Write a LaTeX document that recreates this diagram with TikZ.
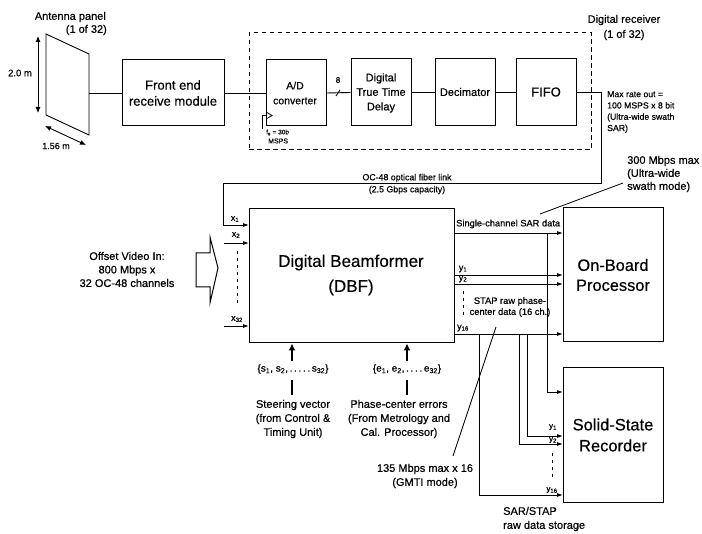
\documentclass[tikz,border=0pt]{standalone}
\usepackage{fontspec}
\setmainfont[FakeBold=0.5]{Liberation Sans}
\usetikzlibrary{arrows.meta}
\newcommand{\fs}[2]{\fontsize{#1}{#2}\selectfont}
\newcommand{\sbs}[1]{\textsubscript{#1}}
\tikzset{
  box/.style={draw,line width=1pt,inner sep=0pt,align=center},
  conn/.style={line width=0.9pt},
  arr/.style={conn,-{Latex[length=6pt,width=4pt]}},
  dbl/.style={line width=0.9pt,{Latex[length=6pt,width=5pt]}-{Latex[length=6pt,width=5pt]}},
  thick up/.style={line width=1.8pt,-{Latex[length=7pt,width=7pt]}},
  thin dash/.style={line width=0.9pt,dash pattern=on 3pt off 4pt},
  lab/.style={inner sep=0pt,align=center},
  labl/.style={inner sep=0pt,align=left,anchor=west},
}
\newcommand{\bx}[6]{\node[box,minimum width=#4-#2,minimum height=#5-#3] (#1) at ({(#2+#4)/2},{(#3+#5)/2}) {#6};}
\begin{document}
\begin{tikzpicture}[x=1pt,y=-1pt]
\useasboundingbox (0,0) rectangle (702,534);
% boxes
\bx{fe}{122}{60}{224}{126}{}
\bx{ad}{266}{60}{326}{126}{}
\bx{ttd}{351}{59}{411}{126}{}
\bx{dec}{435}{59}{495}{126}{}
\bx{fifo}{516}{59}{576}{126}{}
\bx{dbf}{249}{209}{454}{343}{}
\bx{obp}{563}{208}{663}{342}{}
\bx{ssr}{563}{368}{663}{503}{}
\node[lab,font=\fs{13}{16}] (tfe) at (173,93) {Front end\\receive module};
\node[lab,font=\fs{10.5}{15}] (tad) at (295,93) {A/D\\converter};
\node[lab,font=\fs{11}{14.5}] (tttd) at (381,93) {Digital\\True Time\\Delay};
\node[lab,font=\fs{11}{13}] (tdec) at (465,92) {Decimator};
\node[lab,font=\fs{13}{15}] (tfifo) at (546,92) {FIFO};
\node[lab,font=\fs{17}{25}] (tdbf) at (351,275) {Digital Beamformer\\(DBF)};
\node[lab,font=\fs{16.4}{20}] (tobp) at (613,275) {On-Board\\Processor};
\node[lab,font=\fs{16.5}{21}] (tssr) at (613,435) {Solid-State\\Recorder};
% dashed receiver
\node[draw,line width=1pt,dash pattern=on 4.5pt off 3.5pt,minimum width=342pt,minimum height=117pt,inner sep=0pt] (rx) at (420,91.5) {};
% antenna
\coordinate (a1) at (46,34); \coordinate (a2) at (89,54); \coordinate (a3) at (89,135); \coordinate (a4) at (46,115);
\coordinate (aout) at (89,93);
\draw[conn] (a1)--(a2)--(a3)--(a4)--cycle;
\coordinate (hT) at (38,36); \coordinate (hB) at (38,113);
\draw[dbl] (hT)--(hB);
\coordinate (wL) at (45,126); \coordinate (wR) at (86,145);
\draw[dbl] (wL)--(wR);
\node[lab,font=\fs{9.5}{11}] (th) at (20,73) {2.0 m};
\node[lab,font=\fs{9}{11}] (tw) at (56,146) {1.56 m};
\node[lab,anchor=east,font=\fs{11}{13}] (tap1) at (106,17) {Antenna panel};
\node[lab,anchor=east,font=\fs{11}{13}] (tap2) at (107,30) {(1 of 32)};
\node[lab,font=\fs{11}{15}] (trx) at (624,27.5) {Digital receiver\\(1 of 32)};
% chain
\draw[conn] (aout)--(fe.west);
\draw[conn] (fe.east)--(ad.west);
\draw[conn] (ad.east)--(ttd.west);
\draw[conn] (ttd.east)--(dec.west);
\draw[conn] (dec.east)--(fifo.west);
\coordinate (sl1) at (336,96); \coordinate (sl2) at (340,90);
\draw[conn] (sl1)--(sl2);
\node[lab,font=\fs{8}{10}] (t8) at (338,80) {8};
% clock
\coordinate (c1) at (262,129); \coordinate (c2) at (262,115); \coordinate (c3) at (266,115);
\coordinate (t1) at (266,112); \coordinate (t2) at (272,115.5); \coordinate (t3) at (266,119);
\draw[line width=0.8pt] (c1)--(c2)--(c3);
\draw[line width=0.8pt] (t1)--(t2)--(t3);
\node[lab,anchor=west,font=\fs{6.5}{8}] (tfs) at (266,132.5) {f\sbs{s} = 30b};
\node[lab,anchor=west,font=\fs{7}{8}] (tms) at (268,141) {MSPS};
% fibre
\coordinate (f1) at (576,92); \coordinate (f2) at (601,92); \coordinate (f3) at (601,183);
\coordinate (f4) at (223,183); \coordinate (f5) at (223,225); \coordinate (f6) at (249,225);
\draw[conn] (f1)--(f2)--(f3)--(f4)--(f5);
\draw[arr] (f5)--(f6);
\node[labl,font=\fs{8.7}{11.3}] (tmax) at (607,112) {Max rate out =\\100 MSPS x 8 bit\\(Ultra-wide swath\\SAR)};
\node[lab,font=\fs{8.8}{12}] (toc) at (407,184) {OC-48 optical fiber link\\(2.5 Gbps capacity)};
\node[labl,font=\fs{11}{13}] (t300) at (627,174) {300 Mbps max\\(Ultra-wide\\swath mode)};
\coordinate (l1) at (623,183); \coordinate (l2) at (540,214);
\draw[line width=0.8pt] (l1)--(l2);
% inputs
\coordinate (x2a) at (224,243); \coordinate (x2b) at (249,243);
\coordinate (x3a) at (224,326); \coordinate (x3b) at (249,326);
\draw[arr] (x2a)--(x2b);
\draw[arr] (x3a)--(x3b);
\coordinate (dx1) at (237,251); \coordinate (dx2) at (237,306);
\draw[thin dash] (dx1)--(dx2);
\node[lab,font=\fs{9}{11}] (tx1) at (235,219) {x\sbs{1}};
\node[lab,font=\fs{9}{11}] (tx2) at (236,235) {x\sbs{2}};
\node[lab,font=\fs{9}{11}] (tx3) at (237,319) {x\sbs{32}};
% block arrow
\coordinate (b1) at (210,253); \coordinate (b2) at (196,253); \coordinate (b3) at (196,287); \coordinate (b4) at (210,287);
\coordinate (b5) at (210,303); \coordinate (b6) at (218,268); \coordinate (b7) at (210,237);
\draw[line width=1pt] (b1)--(b2)--(b3)--(b4)--(b5)--(b6)--(b7)--cycle;
\node[lab,font=\fs{11}{13.5}] (tov) at (127,269.5) {Offset Video In:\\800 Mbps x\\32 OC-48 channels};
% outputs
\coordinate (s0) at (454,233); \coordinate (s1) at (563,233);
\coordinate (y10) at (454,275); \coordinate (y11) at (563,275);
\coordinate (y20) at (454,284); \coordinate (y21) at (563,284);
\coordinate (y30) at (454,334); \coordinate (y31) at (563,334);
\draw[arr] (s0)--(s1);
\draw[arr] (y10)--(y11);
\draw[arr] (y20)--(y21);
\draw[arr] (y30)--(y31);
\node[labl,font=\fs{9.3}{11}] (tsc) at (456,224) {Single-channel SAR data};
\node[lab,font=\fs{9}{11}] (ty1) at (463,269) {y\sbs{1}};
\node[lab,font=\fs{9}{11}] (ty2) at (463,279) {y\sbs{2}};
\node[lab,font=\fs{9}{11}] (ty3) at (463,328) {y\sbs{16}};
\coordinate (dy1) at (463,291); \coordinate (dy2) at (463,318);
\draw[thin dash] (dy1)--(dy2);
\node[lab,font=\fs{9.3}{11}] (tstap) at (510,307) {STAP raw phase-\\center data (16 ch.)};
% to recorder
\coordinate (v1a) at (547,233); \coordinate (v1b) at (547,392); \coordinate (v1c) at (563,392);
\draw[conn] (v1a)--(v1b); \draw[arr] (v1b)--(v1c);
\coordinate (v2a) at (527,334); \coordinate (v2b) at (527,436); \coordinate (v2c) at (563,436);
\draw[conn] (v2a)--(v2b); \draw[arr] (v2b)--(v2c);
\coordinate (v3a) at (519,334); \coordinate (v3b) at (519,444); \coordinate (v3c) at (563,444);
\draw[conn] (v3a)--(v3b); \draw[arr] (v3b)--(v3c);
\coordinate (v4a) at (479,334); \coordinate (v4b) at (479,495); \coordinate (v4c) at (563,495);
\draw[conn] (v4a)--(v4b); \draw[arr] (v4b)--(v4c);
\node[lab,font=\fs{8}{10}] (tr1) at (553,427) {y\sbs{1}};
\node[lab,font=\fs{8}{10}] (tr2) at (553,440) {y\sbs{2}};
\node[lab,font=\fs{8}{10}] (tr3) at (552,490) {y\sbs{16}};
\coordinate (dr1) at (552,453); \coordinate (dr2) at (552,480);
\draw[thin dash] (dr1)--(dr2);
\coordinate (m1) at (496,327); \coordinate (m2) at (453,456);
\draw[line width=0.8pt] (m1)--(m2);
\node[lab,font=\fs{11}{14}] (t135) at (425,476) {135 Mbps max x 16\\(GMTI mode)};
\node[labl,font=\fs{11}{14}] (tsar) at (503,519) {SAR/STAP\\raw data storage};
% bottom inputs
\node[lab,font=\fs{10}{12}] (tsv) at (293,369) {\{s\sbs{1}, s\sbs{2},\,.\,.\,.\,.\,.\,s\sbs{32}\}};
\node[lab,font=\fs{10}{12}] (tev) at (407,369) {\{e\sbs{1}, e\sbs{2},\,.\,.\,.\,.\,e\sbs{32}\}};
\coordinate (sb) at (292,361); \coordinate (eb) at (407,361);
\draw[thick up] (sb)--(sb|-dbf.south);
\draw[thick up] (eb)--(eb|-dbf.south);
\coordinate (sd1) at (292,380); \coordinate (sd2) at (292,395);
\coordinate (ed1) at (407,380); \coordinate (ed2) at (407,395);
\draw[line width=1.8pt] (sd1)--(sd2);
\draw[line width=1.8pt] (ed1)--(ed2);
\node[lab,font=\fs{11}{14}] (tst) at (293,419) {Steering vector\\(from Control \&\\Timing Unit)};
\node[lab,font=\fs{11}{14}] (tph) at (399,419) {Phase-center errors\\(From Metrology and\\Cal. Processor)};
\end{tikzpicture}
\end{document}
